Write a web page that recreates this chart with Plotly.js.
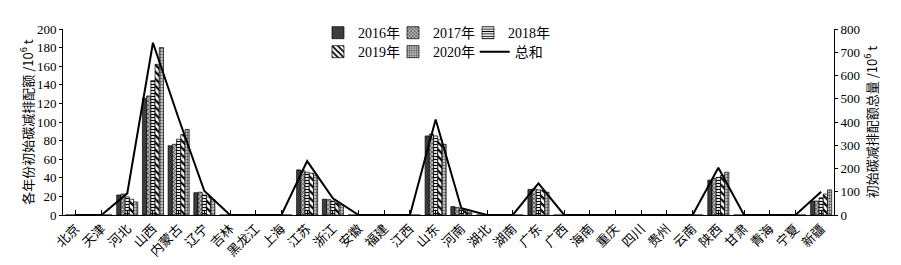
<!DOCTYPE html>
<html>
<head>
<meta charset="utf-8">
<script src="https://cdn.plot.ly/plotly-3.0.1.min.js"></script>
<style>html,body{margin:0;padding:0;background:#fff;}#chart{width:901px;height:265px;}</style>
</head>
<body>
<div id="chart"></div>
<script>
const provinces = ["北京","天津","河北","山西","内蒙古","辽宁","吉林","黑龙江","上海","江苏","浙江","安徽","福建","江西","山东","河南","湖北","湖南","广东","广西","海南","重庆","四川","贵州","云南","陕西","甘肃","青海","宁夏","新疆"];
const y2016 = [0,0,21.5,125.5,74.5,24,0,0,0,48.5,17,0,0,0,85,9,0,0,27.5,0,0,0,0,0,0,37.5,0,0,0,15];
const y2017 = [0,0,22.5,128,76,24.5,0,0,0,47.5,16.5,0,0,0,87,8,0,0,28,0,0,0,0,0,0,39.5,0,0,0,15];
const y2018 = [0,0,19.5,144.5,81.5,21.5,0,0,0,46,15,0,0,0,85,6.5,0,0,27,0,0,0,0,0,0,40.5,0,0,0,18.5];
const y2019 = [0,0,17,162,86.5,19.5,0,0,0,45,13,0,0,0,81,4.5,0,0,26.5,0,0,0,0,0,0,42.5,0,0,0,22.5];
const y2020 = [0,0,14,180,92,16.5,0,0,0,43,11,0,0,0,76,2.5,0,0,24.5,0,0,0,0,0,0,46,0,0,0,27];
const totals = [0,0,93,741,415,103,0,0,0,232,72,0,0,0,411,29,0,0,136,0,0,0,0,0,0,203,0,0,0,100];
const yearNames = ["2016年","2017年","2018年","2019年","2020年"];
const totalName = "总和";
const leftTicks = [0,20,40,60,80,100,120,140,160,180,200];
const rightTicks = [0,100,200,300,400,500,600,700,800];

const FONT = "Liberation Serif, 'Noto Sans CJK SC', serif";
const CJK = "'Noto Sans CJK SC', serif";
const lineStyle = {color:"#000", width:0.7};
const patterns = [
  {color:"#3c3c3c", pattern:{shape:""}},
  {color:"#fff", pattern:{shape:"x", size:3, solidity:0.35, fgcolor:"#222", bgcolor:"#bbb"}},
  {color:"#fff", pattern:{shape:"-", size:3, solidity:0.4, fgcolor:"#000", bgcolor:"#fff"}},
  {color:"#fff", pattern:{shape:"\\", size:5, solidity:0.45, fgcolor:"#000", bgcolor:"#fff"}},
  {color:"#fff", pattern:{shape:".", size:3, solidity:0.5, fgcolor:"#555", bgcolor:"#e0e0e0"}}
];
const legendIds = ["legend","legend2","legend3","legend4","legend5","legend6"];
const series = [y2016,y2017,y2018,y2019,y2020];
const traces = series.map((vals,i)=>({
  type:"bar", x:provinces, y:vals, name:yearNames[i],
  legend: legendIds[i],
  marker:Object.assign({line:lineStyle}, patterns[i])
}));
traces.push({
  type:"scatter", mode:"lines", x:provinces, y:totals, name:totalName, yaxis:"y2",
  legend:legendIds[5], line:{color:"#000", width:2}
});

const legendX = [0.3307, 0.428, 0.5253, 0.3307, 0.428, 0.534];
const legendY = [0.978, 0.876];
function mkLegend(k){
  return {orientation:"h", xanchor:"left", yanchor:"middle",
          x:legendX[k], y:legendY[Math.floor(k/3)],
          bgcolor:"rgba(0,0,0,0)", font:{family:FONT, size:14, color:"#000"},
          itemwidth:30, tracegroupgap:0};
}
const layout = {
  width:901, height:265,
  margin:{l:63, r:67, t:29, b:50},
  paper_bgcolor:"#fff", plot_bgcolor:"#fff",
  font:{family:FONT, size:13, color:"#000"},
  barmode:"group", bargap:0.18, bargroupgap:0,
  showlegend:true,
  xaxis:{type:"category", tickangle:-45, ticks:"inside", ticklen:5, tickcolor:"#000",
         showline:true, linecolor:"#000", linewidth:1, showgrid:false, zeroline:false,
         tickfont:{family:CJK, size:13, color:"#000"}, automargin:false},
  yaxis:{range:[0,200], tickvals:leftTicks, ticks:"outside", ticklen:3, tickcolor:"#000",
         showline:true, linecolor:"#000", linewidth:1, showgrid:false, zeroline:false,
         tickfont:{family:FONT, size:13, color:"#000"}, automargin:false,
         title:{text:"各年份初始碳减排配额 /10<sup>6</sup> t", standoff:0,
                font:{family:CJK, size:13, color:"#000"}}},
  yaxis2:{range:[0,800], tickvals:rightTicks, overlaying:"y", side:"right", ticks:"outside",
         ticklen:3, tickcolor:"#000", showline:true, linecolor:"#000", linewidth:1,
         showgrid:false, zeroline:false, tickfont:{family:FONT, size:13, color:"#000"}, automargin:false,
         title:{text:"初始碳减排配额总量 /10<sup>6</sup> t", standoff:4,
                font:{family:CJK, size:13, color:"#000"}}}
};
legendIds.forEach((id,k)=>{ layout[id] = mkLegend(k); });
Plotly.newPlot("chart", traces, layout, {displayModeBar:false, staticPlot:true});
</script>
</body>
</html>
